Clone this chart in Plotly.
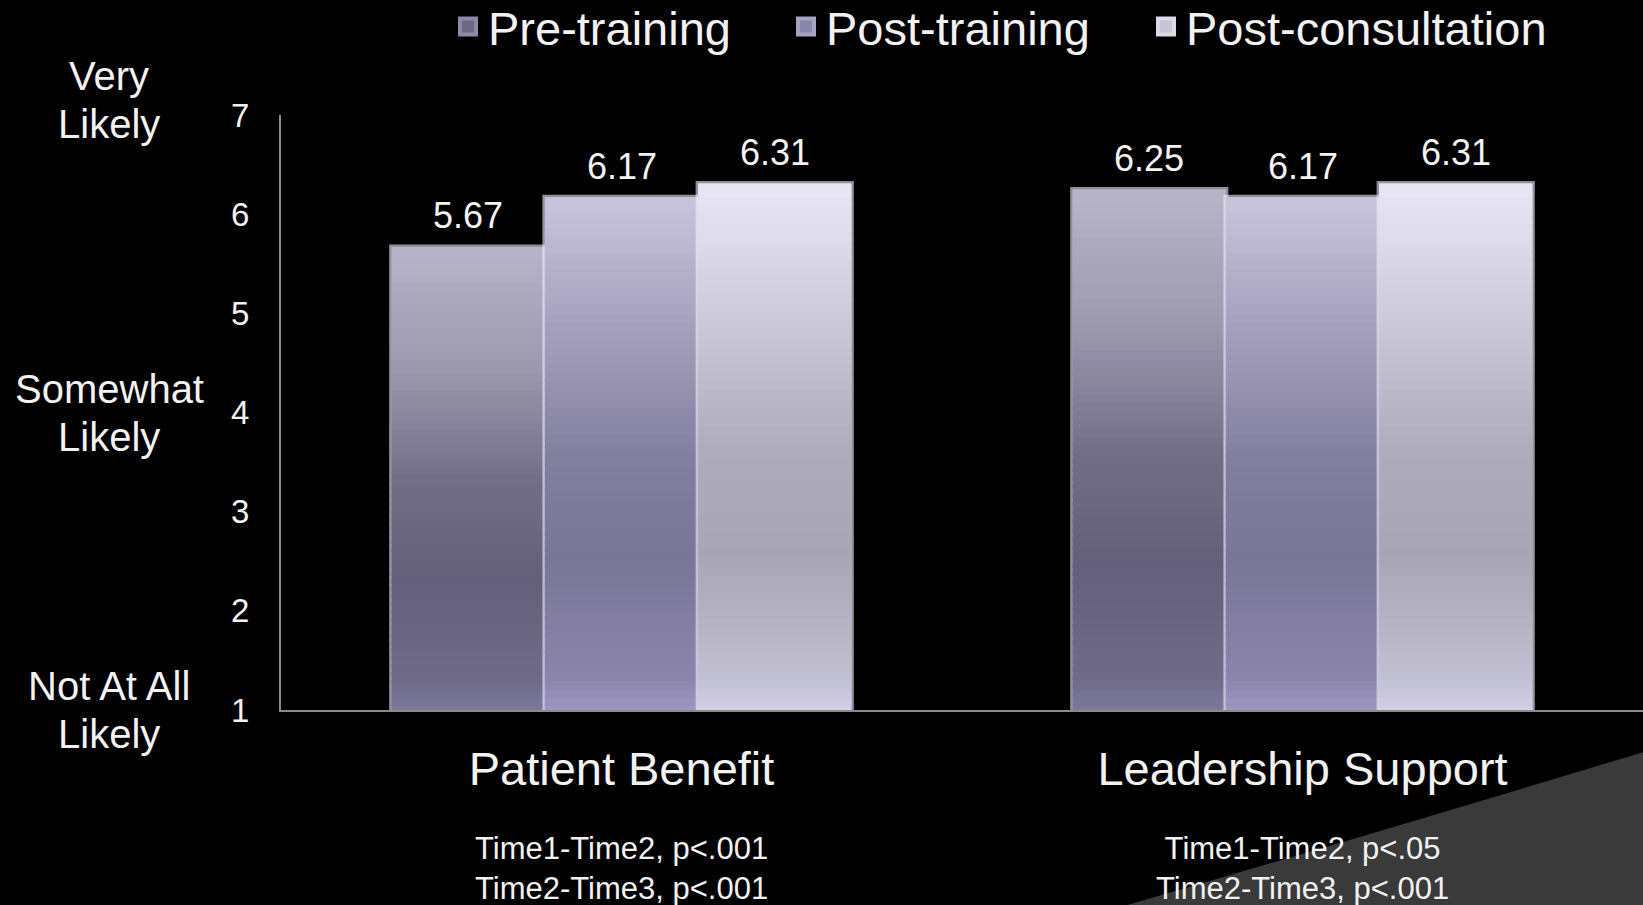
import plotly.graph_objects as go

# ---- data -------------------------------------------------------------
categories = ["Patient Benefit", "Leadership Support"]
series_names = ["Pre-training", "Post-training", "Post-consultation"]
pre_training = [5.67, 6.25]
post_training = [6.17, 6.17]
post_consultation = [6.31, 6.31]
y_ticks = [1, 2, 3, 4, 5, 6, 7]
# verbal anchors of the rating scale, attached to tick values
scale_values = [7, 4, 1]
scale_lines = [("Very", "Likely"), ("Somewhat", "Likely"), ("Not At All", "Likely")]
stats_text = [
    "Time1-Time2, p<.001<br>Time2-Time3, p<.001",
    "Time1-Time2, p<.05<br>Time2-Time3, p<.001",
]

# ---- style ------------------------------------------------------------
W, H = 1643, 905
M_L, M_R, M_T, M_B = 281, 0, 115, 195
PW, PH = W - M_L - M_R, H - M_T - M_B
FONT = "Liberation Sans, Arial, sans-serif"
TXT = "#f2f2f2"
AXIS = "#8a8a8a"
BARGAP = 0.325

legend_colors = ["#6c6886", "#8a86aa", "#c8c6d6"]
legend_edges = ["#8e8aa6", "#a6a2c2", "#dcdae6"]
legend_widths = [293, 315, None]
# vertical gradient stops (fraction of bar height from bottom, colour)
gradients = [
    [(0.0, "#7e7a9e"), (0.08, "#6e6a88"), (0.3, "#64607a"), (0.5, "#726e86"),
     (0.75, "#9c98ae"), (1.0, "#b8b4c8")],
    [(0.0, "#9e98c4"), (0.08, "#8a84aa"), (0.3, "#7a7698"), (0.5, "#827e9e"),
     (0.75, "#a4a0bc"), (1.0, "#c8c4dc")],
    [(0.0, "#d4d0e8"), (0.08, "#c0bed0"), (0.3, "#a8a6b4"), (0.5, "#aeacba"),
     (0.75, "#cccad8"), (1.0, "#e8e6f4")],
]
N_SLICES = 60


def hex_rgb(h):
    h = h.lstrip("#")
    return tuple(int(h[i:i + 2], 16) for i in (0, 2, 4))


def grad_color(stops, f):
    for (f0, c0), (f1, c1) in zip(stops[:-1], stops[1:]):
        if f0 <= f <= f1:
            t = (f - f0) / (f1 - f0) if f1 > f0 else 0
            a, b = hex_rgb(c0), hex_rgb(c1)
            return "rgb(%d,%d,%d)" % tuple(round(a[i] + (b[i] - a[i]) * t) for i in range(3))
    return stops[-1][1]


values = [pre_training, post_training, post_consultation]
y_min, y_max = y_ticks[0], y_ticks[-1]
n_series = len(series_names)
bar_px = PW / len(categories) * (1 - BARGAP) / n_series

fig = go.Figure()

for s, (name, vals) in enumerate(zip(series_names, values)):
    # full bar with a soft light edge
    fig.add_trace(go.Bar(
        x=categories, y=[v - y_min for v in vals], base=[y_min] * len(vals),
        name=name, offsetgroup=str(s), showlegend=False, hoverinfo="skip",
        marker=dict(color=legend_colors[s], line=dict(color="rgba(240,240,255,0.6)", width=5)),
    ))
    # gradient fill built from thin stacked slices of the same bar
    for k in range(N_SLICES):
        f = (k + 0.5) / N_SLICES
        h = [(v - y_min) / N_SLICES for v in vals]
        lap = 0.0 if k == 0 else 0.6
        fig.add_trace(go.Bar(
            x=categories,
            y=[hh * (1 + lap) for hh in h],
            base=[y_min + (v - y_min) * k / N_SLICES - hh * lap for v, hh in zip(vals, h)],
            offsetgroup=str(s), showlegend=False, hoverinfo="skip",
            marker=dict(color=grad_color(gradients[s], f), line=dict(width=0)),
        ))
    # value labels above each bar
    for cat, v in zip(categories, vals):
        fig.add_annotation(x=cat, xref="x", y=v, yref="y", text="%.2f" % v,
                           showarrow=False, xanchor="center", yanchor="middle",
                           xshift=(s - (n_series - 1) / 2) * bar_px, yshift=31,
                           font=dict(family=FONT, size=36, color=TXT))
    # legend entry
    fig.add_trace(go.Scatter(
        x=[None], y=[None], mode="markers", name=name,
        marker=dict(symbol="square", size=16, color=legend_colors[s],
                    line=dict(color=legend_edges[s], width=4)),
        legendwidth=legend_widths[s], hoverinfo="skip",
    ))

# verbal scale anchors left of the tick labels
for yv, (l1, l2) in zip(scale_values, scale_lines):
    py = (yv - y_min) / (y_max - y_min)
    shift = 15 if yv == y_max else 0
    for txt, dy in ((l1, 24), (l2, -24)):
        fig.add_annotation(x=(109 - M_L) / PW, xref="paper", y=py, yref="paper",
                           text=txt, showarrow=False, xanchor="center", yanchor="middle",
                           yshift=dy + shift, font=dict(family=FONT, size=40, color=TXT))

# significance notes under each category
for cat, note in zip(categories, stats_text):
    fig.add_annotation(x=cat, xref="x", y=(710 - 868) / PH, yref="paper",
                       text=note, showarrow=False, xanchor="center", yanchor="middle",
                       font=dict(family=FONT, size=31, color=TXT))


def to_paper(px, py):
    return (px - M_L) / PW, (H - M_B - py) / PH


# grey corner panel at the bottom right
p0 = to_paper(1110, 910)
c = to_paper(1380, 832)
p2 = to_paper(1650, 750)
p3 = to_paper(1650, 910)
path = "M %f,%f Q %f,%f %f,%f L %f,%f Z" % (p0[0], p0[1], c[0], c[1], p2[0], p2[1], p3[0], p3[1])
fig.add_shape(type="path", path=path, xref="paper", yref="paper",
              fillcolor="#3a3a3a", line=dict(width=0), layer="below")

fig.update_layout(
    width=W, height=H,
    margin=dict(l=M_L, r=M_R, t=M_T, b=M_B, pad=0, autoexpand=False),
    paper_bgcolor="black", plot_bgcolor="black",
    barmode="group", bargap=BARGAP, bargroupgap=0,
    font=dict(family=FONT, color=TXT),
    legend=dict(orientation="h", x=(448 - M_L) / PW, xanchor="left",
                y=(H - M_B - 27) / PH, yanchor="middle",
                font=dict(family=FONT, size=47, color=TXT),
                bgcolor="rgba(0,0,0,0)", itemclick=False, borderwidth=0),
    xaxis=dict(showline=True, linecolor=AXIS, linewidth=2, showgrid=False, ticks="",
               tickfont=dict(family=FONT, size=47, color=TXT), ticklabelstandoff=17,
               zeroline=False),
    yaxis=dict(range=[y_min, y_max], tickvals=y_ticks, showline=True, linecolor=AXIS,
               linewidth=2, showgrid=False, zeroline=False, ticks="",
               tickfont=dict(family=FONT, size=33, color=TXT), ticklabelstandoff=23),
)

fig.write_html("out.html")
